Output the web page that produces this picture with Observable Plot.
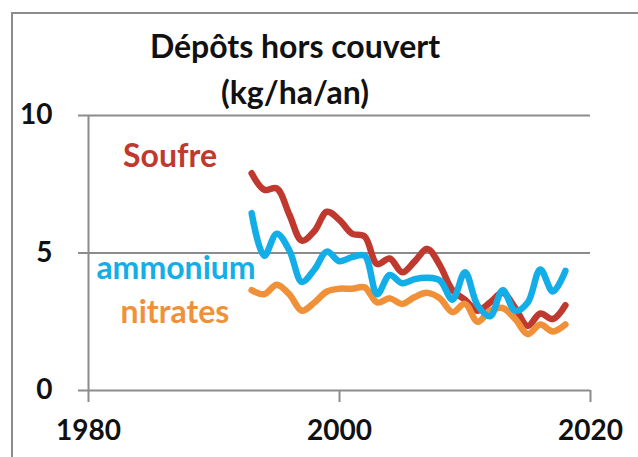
<!DOCTYPE html>
<html>
<head>
<meta charset="utf-8">
<script src="https://cdn.jsdelivr.net/npm/d3@7"></script>
<script src="https://cdn.jsdelivr.net/npm/@observablehq/plot@0.6"></script>
<style>
  html, body { margin: 0; padding: 0; background: #fff; }
  #wrap { position: relative; width: 638px; height: 457px; overflow: hidden; font-family: Lato, "Open Sans", sans-serif; }
  #frame { position: absolute; left: 11px; top: 12px; width: 700px; height: 600px; border-top: 2px solid #8c8c8c; border-left: 2px solid #8c8c8c; }
  #plot { position: absolute; left: 0; top: 0; }
  .lbl { position: absolute; font-weight: 700; white-space: nowrap; transform: translate(-50%, -50%); line-height: 1; }
</style>
</head>
<body>
<div id="wrap">
  <div id="frame"></div>
  <div id="plot"></div>
  <div class="lbl" style="left:295px; top:46px; font-size:32px; color:#111;">Dépôts hors couvert</div>
  <div class="lbl" style="left:295px; top:92px; font-size:32px; color:#111;">(kg/ha/an)</div>
  <div class="lbl" style="left:170px; top:155px; font-size:32px; color:#c0392e;">Soufre</div>
  <div class="lbl" style="left:176px; top:267px; font-size:32px; color:#13aee8;">ammonium</div>
  <div class="lbl" style="left:175px; top:311px; font-size:32px; color:#f0913a;">nitrates</div>
</div>
<script>
const years = [1993,1994,1995,1996,1997,1998,1999,2000,2001,2002,2003,2004,2005,2006,2007,2008,2009,2010,2011,2012,2013,2014,2015,2016,2017,2018];
const soufre = [7.9,7.3,7.35,6.4,5.45,5.8,6.5,6.2,5.7,5.6,4.6,4.8,4.3,4.7,5.15,4.55,3.65,3.3,2.9,3.2,3.55,3.0,2.35,2.8,2.6,3.1];
const ammonium = [6.45,4.9,5.7,5.1,3.95,4.4,5.05,4.7,4.85,4.9,3.5,4.2,3.9,4.05,4.1,4.0,3.3,4.3,3.1,2.7,3.65,2.9,3.2,4.4,3.6,4.35];
const nitrates = [3.65,3.5,3.85,3.5,2.9,3.2,3.6,3.7,3.7,3.75,3.2,3.35,3.15,3.4,3.55,3.35,2.85,3.15,2.5,2.9,3.0,2.6,2.05,2.4,2.15,2.4];
const seriesNames = ["Soufre", "nitrates", "ammonium"];
const seriesColors = ["#c0392e", "#f0913a", "#13aee8"];
const xTicks = [1980, 2000, 2020];
const yTicks = [0, 5, 10];
const gridValues = [5, 10];

const seriesValues = {Soufre: soufre, nitrates: nitrates, ammonium: ammonium};
const rows = seriesNames.flatMap(name => years.map((yr, i) => ({year: yr, value: seriesValues[name][i], series: name})));

const chart = Plot.plot({
  width: 638,
  height: 457,
  marginLeft: 88,
  marginRight: 48,
  marginTop: 115,
  marginBottom: 67,
  style: {background: "transparent", fontFamily: "Lato, 'Open Sans', sans-serif"},
  x: {domain: [1980, 2020]},
  y: {domain: [0, 10]},
  color: {domain: seriesNames, range: seriesColors},
  marks: [
    Plot.ruleY(gridValues, {stroke: "#8c8c8c", strokeWidth: 2}),
    Plot.ruleY([0], {stroke: "#8c8c8c", strokeWidth: 2}),
    Plot.ruleX([1980], {stroke: "#8c8c8c", strokeWidth: 2}),
    Plot.axisX({ticks: xTicks, tickSize: 12, tickPadding: 18, tickFormat: d => String(d), fontSize: 28, fontWeight: 700, stroke: "#8c8c8c", color: "#111", strokeWidth: 2, label: null}),
    Plot.axisY({ticks: yTicks, tickSize: 10, tickPadding: 26, fontSize: 28, fontWeight: 700, stroke: "#8c8c8c", color: "#111", strokeWidth: 2, label: null}),
    Plot.line(rows, {x: "year", y: "value", z: "series", stroke: "series", strokeWidth: 6.5, curve: "catmull-rom", strokeLinejoin: "round", strokeLinecap: "round"})
  ]
});
document.getElementById("plot").appendChild(chart);
</script>
</body>
</html>
